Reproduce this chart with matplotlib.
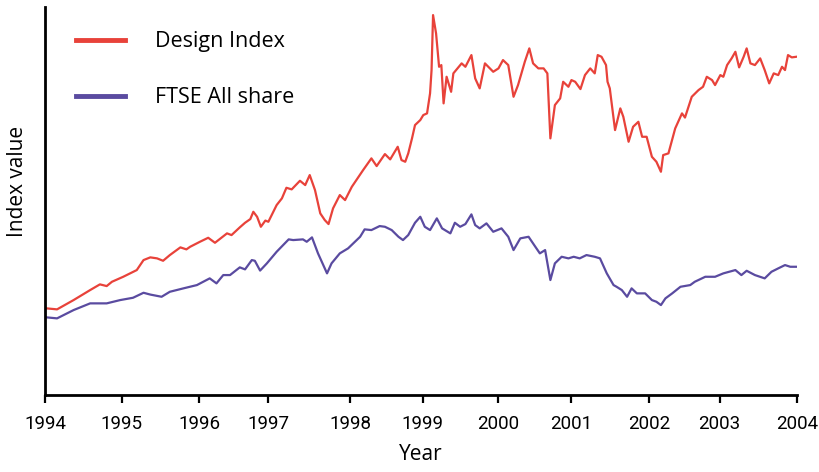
import matplotlib
matplotlib.use("Agg")
import matplotlib.pyplot as plt

# Design Index vs FTSE All share, 1994-2004 (index values)
design_years = [1994.02, 1994.16, 1994.38, 1994.60, 1994.73, 1994.82, 1994.89, 1995.04, 1995.22, 1995.31,
                1995.40, 1995.49, 1995.57, 1995.66, 1995.80, 1995.88, 1995.93, 1996.06, 1996.17, 1996.26,
                1996.42, 1996.48, 1996.59, 1996.66, 1996.73, 1996.77, 1996.82, 1996.87, 1996.93, 1996.97,
                1997.08, 1997.15, 1997.21, 1997.28, 1997.39, 1997.46, 1997.52, 1997.59, 1997.66, 1997.72,
                1997.77, 1997.83, 1997.92, 1997.99, 1998.08, 1998.14, 1998.23, 1998.34, 1998.41, 1998.52,
                1998.59, 1998.69, 1998.74, 1998.79, 1998.83, 1998.88, 1998.92, 1998.99, 1999.03, 1999.08,
                1999.12, 1999.14, 1999.16, 1999.20, 1999.24, 1999.27, 1999.30, 1999.34, 1999.40, 1999.43,
                1999.54, 1999.59, 1999.67, 1999.72, 1999.78, 1999.85, 1999.96, 2000.03, 2000.09, 2000.16,
                2000.23, 2000.29, 2000.38, 2000.44, 2000.49, 2000.56, 2000.63, 2000.68, 2000.72, 2000.78,
                2000.85, 2000.89, 2000.96, 2001.00, 2001.05, 2001.12, 2001.18, 2001.25, 2001.31, 2001.35,
                2001.40, 2001.46, 2001.48, 2001.51, 2001.58, 2001.65, 2001.69, 2001.76, 2001.82, 2001.89,
                2001.94, 2002.00, 2002.07, 2002.13, 2002.19, 2002.22, 2002.29, 2002.38, 2002.47, 2002.51,
                2002.60, 2002.69, 2002.75, 2002.80, 2002.87, 2002.91, 2002.98, 2003.02, 2003.07, 2003.13,
                2003.18, 2003.23, 2003.29, 2003.33, 2003.38, 2003.44, 2003.51, 2003.57, 2003.63, 2003.69,
                2003.75, 2003.80, 2003.84, 2003.88, 2003.93, 2003.99]
design_index = [86.7, 85.7, 95, 105, 110.7, 109, 113.3, 118.3, 125, 135,
                137.7, 136.7, 134.3, 140, 147.7, 145.7, 148.3, 153.3, 157.3, 152.3,
                161.7, 160, 167.7, 172.3, 176, 183.3, 178.3, 168.3, 174.5, 173.3,
                190, 196.7, 207.3, 205.7, 214.3, 210, 220, 205, 181.7, 175,
                171, 186.7, 200, 195, 208.3, 215, 225, 236.7, 229, 241,
                235.7, 248.3, 235, 233.3, 241.7, 256.7, 270, 275, 280, 281.7,
                301.7, 325, 380, 361.7, 328.3, 330, 291.7, 318.3, 303.3, 321.7,
                331.7, 328.3, 340, 316.7, 306.7, 331.7, 323.3, 326.7, 335, 330,
                298.3, 310, 333.3, 346.7, 331.7, 326.7, 326.7, 321.7, 256.7, 290,
                296.7, 313.3, 308.3, 315, 313.3, 306, 320, 326.7, 321.7, 340,
                338.3, 330, 313.3, 306.7, 265, 286.7, 278.3, 253.3, 268.3, 273.3,
                258.3, 258.3, 238.3, 233.3, 223.3, 240, 241.7, 266.7, 281.7, 277.5,
                298.3, 305, 308.3, 318.3, 315, 310, 320, 318.3, 330, 336.7,
                343.3, 327.7, 338.3, 346.7, 331.7, 330, 336.7, 325, 311.7, 321.7,
                320, 328.3, 325, 340, 337.7, 338.3]

ftse_years = [1994.02, 1994.16, 1994.38, 1994.60, 1994.82, 1995.00, 1995.17, 1995.31, 1995.40, 1995.55,
              1995.66, 1995.84, 1996.02, 1996.19, 1996.28, 1996.37, 1996.46, 1996.59, 1996.66, 1996.75,
              1996.79, 1996.86, 1996.95, 1997.08, 1997.24, 1997.30, 1997.43, 1997.48, 1997.55, 1997.63,
              1997.75, 1997.81, 1997.92, 1998.03, 1998.19, 1998.25, 1998.34, 1998.45, 1998.52, 1998.61,
              1998.70, 1998.76, 1998.83, 1998.92, 1998.99, 1999.05, 1999.12, 1999.21, 1999.28, 1999.39,
              1999.45, 1999.52, 1999.59, 1999.67, 1999.72, 1999.78, 1999.87, 1999.96, 2000.07, 2000.16,
              2000.23, 2000.32, 2000.43, 2000.52, 2000.58, 2000.65, 2000.72, 2000.78, 2000.87, 2000.96,
              2001.03, 2001.11, 2001.20, 2001.31, 2001.38, 2001.47, 2001.56, 2001.60, 2001.67, 2001.74,
              2001.80, 2001.87, 2001.98, 2002.07, 2002.13, 2002.19, 2002.25, 2002.34, 2002.45, 2002.58,
              2002.64, 2002.78, 2002.91, 2003.02, 2003.18, 2003.26, 2003.33, 2003.44, 2003.57, 2003.66,
              2003.75, 2003.84, 2003.91, 2003.99]
ftse_index = [77.7, 76.7, 85, 91.7, 91.7, 95, 97.3, 102.3, 100.5, 98.3,
              103.3, 106.7, 110, 116.7, 111.7, 120, 120, 127.7, 125.7, 135,
              134.3, 124.5, 131.7, 143.3, 155.7, 155, 155.7, 153.3, 157.7, 141.7,
              121.7, 131.7, 141.7, 146.7, 158.3, 165.7, 165, 169, 168.3, 165,
              158.3, 155, 160, 172.3, 178.3, 168.3, 165, 176.7, 166.7, 161.7,
              172.3, 168.3, 171, 180.7, 170, 166.7, 171.7, 163.3, 166.7, 158.3,
              145, 156.7, 158.3, 148.3, 141.7, 145, 115, 131.7, 138.3, 136.7,
              138.3, 136.7, 140, 138.3, 136.7, 121.7, 110, 108.3, 105, 98.3,
              106.7, 101.7, 101.7, 95, 93.3, 90, 96.7, 101.7, 108.3, 110,
              113.3, 118.3, 118.3, 121.7, 125, 120, 124.3, 120, 116.7, 123.3,
              126.7, 130, 128.3, 128.3]

# year ticks as they sit on the original axis (spacing is not quite even)
tick_pos = [1994.0, 1995.02, 1996.05, 1996.97, 1998.06, 1999.02, 2000.02, 2001.0, 2002.03, 2002.97, 2004.0]
tick_labels = ["1994", "1995", "1996", "1997", "1998", "1999", "2000", "2001", "2002", "2003", "2004"]

red = "#e8423a"
purple = "#5a4ba0"
font = ["Open Sans", "DejaVu Sans"]
tick_font = ["Roboto", "DejaVu Sans"]

fig = plt.figure(figsize=(8.2, 4.72), dpi=100)
ax = fig.add_axes([0.0549, 0.163, 0.9171, 0.822])

ax.plot(design_years, design_index, color=red, lw=1.6, label="Design Index")
ax.plot(ftse_years, ftse_index, color=purple, lw=1.6, label="FTSE All share")

ax.set_xlim(1994, 2004)
ax.set_ylim(0, 388)

ax.spines["top"].set_visible(False)
ax.spines["right"].set_visible(False)
ax.spines["left"].set_linewidth(2)
ax.spines["bottom"].set_linewidth(2)

ax.set_yticks([])
ax.set_xticks(tick_pos)
ax.set_xticklabels(tick_labels, fontfamily=tick_font, fontsize=13.5)
ax.tick_params(axis="x", direction="out", length=6, width=1.6, pad=8)

ax.set_xlabel("Year", fontfamily=font, fontsize=15, labelpad=8)
ax.set_ylabel("Index value", fontfamily=font, fontsize=15)
ax.yaxis.set_label_coords(-0.022, 0.55)

leg = ax.legend(loc="upper left", bbox_to_anchor=(0.015, 0.988), frameon=False,
                prop={"family": font, "size": 15.5}, handlelength=2.3,
                handletextpad=1.4, labelspacing=1.63)
for h in leg.get_lines():
    h.set_linewidth(3.5)

fig.savefig("out.png", dpi=100)
